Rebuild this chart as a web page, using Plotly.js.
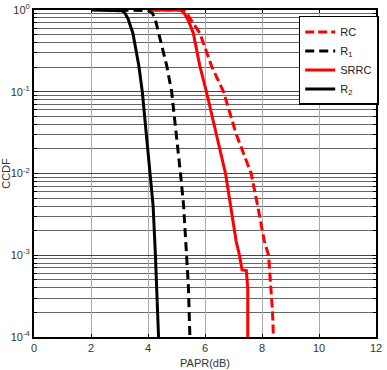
<!DOCTYPE html>
<html><head><meta charset="utf-8">
<script src="https://cdn.plot.ly/plotly-3.0.1.min.js"></script>
<style>html,body{margin:0;padding:0;background:#fff}#plot{width:387px;height:370px}</style>
</head><body><div id="plot"></div>
<script>
const rcX = [4.1, 5.25, 5.35, 5.44, 5.6, 5.82, 6.23, 6.65, 7.1, 7.62, 7.85, 8.08, 8.23, 8.3, 8.37, 8.40];
const rcY = [1, 1, 0.95, 0.82, 0.68, 0.52, 0.206, 0.1, 0.03, 0.01, 0.004, 0.0015, 0.001, 5e-4, 2e-4, 1e-4];
const r1X = [3.0, 3.96, 4.05, 4.15, 4.25, 4.375, 4.66, 4.83, 5.0, 5.14, 5.25, 5.36, 5.42, 5.47];
const r1Y = [1, 1, 0.98, 0.92, 0.78, 0.52, 0.206, 0.1, 0.03, 0.01, 0.004, 0.001, 4e-4, 1e-4];
const srrcX = [4.1, 5.13, 5.2, 5.3, 5.42, 5.59, 5.82, 6.05, 6.4, 6.72, 6.9, 7.09, 7.21, 7.3, 7.45, 7.5, 7.5];
const srrcY = [1, 1, 0.97, 0.88, 0.74, 0.52, 0.206, 0.1, 0.03, 0.01, 0.004, 0.0015, 0.001, 6.6e-4, 6.5e-4, 4e-4, 1e-4];
const r2X = [2.0, 3.0, 3.08, 3.18, 3.3, 3.47, 3.68, 3.8, 3.95, 4.08, 4.18, 4.26, 4.32, 4.37];
const r2Y = [1, 1, 0.98, 0.93, 0.78, 0.52, 0.206, 0.1, 0.03, 0.01, 0.004, 0.001, 3e-4, 1e-4];
const names = ['RC', 'R<sub>1</sub>', 'SRRC', 'R<sub>2</sub>'];
const xTicks = [0, 2, 4, 6, 8, 10, 12];
const yTickVals = [1e-4, 1e-3, 1e-2, 1e-1, 1];
const yTickText = ['10<sup>-4</sup>', '10<sup>-3</sup>', '10<sup>-2</sup>', '10<sup>-1</sup>', '10<sup>0</sup>'];

const red = '#ff0000', blk = '#000000';
const traces = [
  {x: rcX, y: rcY, name: names[0], mode: 'lines', line: {color: red, width: 3, dash: '9px,4px'}},
  {x: r1X, y: r1Y, name: names[1], mode: 'lines', line: {color: blk, width: 3, dash: '9px,5px'}},
  {x: srrcX, y: srrcY, name: names[2], mode: 'lines', line: {color: red, width: 3}},
  {x: r2X, y: r2Y, name: names[3], mode: 'lines', line: {color: blk, width: 3}}
];
const layout = {
  width: 387, height: 370,
  margin: {l: 34, r: 8, t: 10, b: 33},
  paper_bgcolor: '#fff', plot_bgcolor: '#fff',
  font: {family: 'Liberation Sans, Arial, sans-serif', size: 11, color: '#333'},
  showlegend: true,
  legend: {x: 0.774, y: 0.982, xanchor: 'left', yanchor: 'top', bgcolor: '#fff',
    bordercolor: '#000', borderwidth: 1.5, font: {size: 11, color: '#222'}, itemwidth: 30,
    tracegroupgap: 0},
  xaxis: {range: [0, 12], tickvals: xTicks, ticks: 'inside', ticklen: 3, tickcolor: '#000',
    showline: true, linecolor: '#000', linewidth: 2, mirror: 'ticks',
    showgrid: true, gridcolor: '#aaa', gridwidth: 1, zeroline: false,
    title: {text: 'PAPR(dB)', standoff: 6, font: {size: 11, color: '#333'}}},
  yaxis: {type: 'log', range: [-4, 0], tickvals: yTickVals, ticktext: yTickText,
    ticks: 'inside', ticklen: 4, tickcolor: '#000',
    showline: true, linecolor: '#000', linewidth: 2, mirror: 'ticks',
    showgrid: true, gridcolor: '#444', gridwidth: 1, zeroline: false,
    minor: {dtick: 'D1', showgrid: true, gridcolor: '#666', gridwidth: 1, ticks: 'inside', ticklen: 3, tickcolor: '#000'},
    title: {text: 'CCDF', standoff: 2, font: {size: 11, color: '#333'}}}
};
Plotly.newPlot('plot', traces, layout, {displayModeBar: false, staticPlot: true});
</script></body></html>
